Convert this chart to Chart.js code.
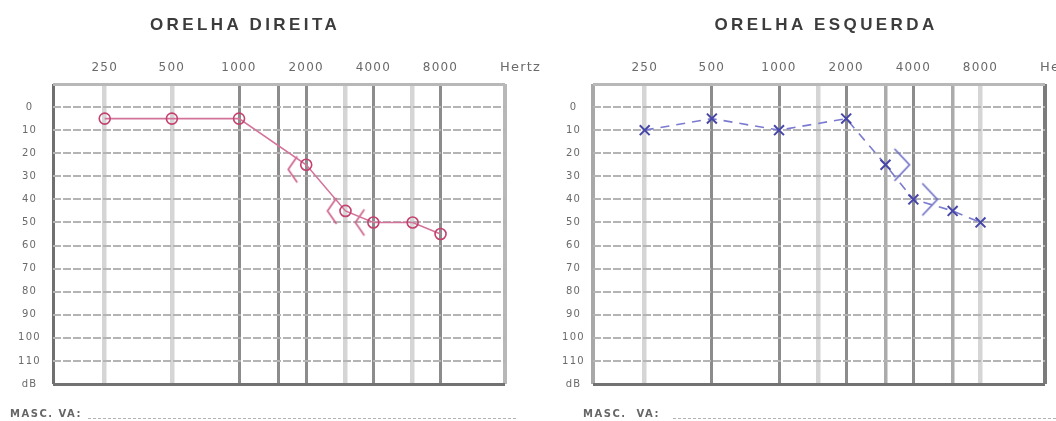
<!DOCTYPE html>
<html>
<head>
<meta charset="utf-8">
<script src="https://cdn.jsdelivr.net/npm/chart.js@4/dist/chart.umd.min.js"></script>
<style>
  body { margin: 0; width: 1056px; height: 421px; overflow: hidden; position: relative; background: #fff; font-family: "DejaVu Sans", sans-serif; }
  .box { position: absolute; top: 0; width: 528px; height: 421px; }
  .title { position: absolute; top: 15px; transform: translateX(-50%); white-space: nowrap; font-family: "Liberation Sans", Arial, sans-serif; font-weight: bold; font-size: 17px; letter-spacing: 3.4px; color: #3c3c3c; }
  .hertz { position: absolute; top: 59px; font-size: 13px; letter-spacing: 1.2px; color: #6a6a6a; white-space: nowrap; }
  .masc { position: absolute; top: 408px; font-size: 10px; font-weight: bold; letter-spacing: 1.5px; color: #666; white-space: nowrap; }
  .dots { position: absolute; top: 418px; height: 0; border-top: 1px dashed #b4b4b4; }
</style>
</head>
<body>
<div class="box" style="left:0"><canvas id="right-ear"></canvas></div>
<div class="box" style="left:528px"><canvas id="left-ear"></canvas></div>
<div class="title" style="left:245px">ORELHA DIREITA</div>
<div class="title" style="left:826px">ORELHA ESQUERDA</div>
<div class="hertz" style="left:500px">Hertz</div>
<div class="hertz" style="left:1040px">Hertz</div>
<div class="masc" style="left:10px">MASC. VA:</div>
<div class="dots" style="left:88px;width:428px"></div>
<div class="masc" style="left:583px">MASC.&nbsp; VA:</div>
<div class="dots" style="left:673px;width:383px"></div>
<script>
// frequencies of the grid, and which of them get a label
var gridFreqs = [250, 500, 1000, 1500, 2000, 3000, 4000, 6000, 8000];
var freqLabels = ["250", "500", "1000", "", "2000", "", "4000", "", "8000"];
var dbTicks = [-10, 0, 10, 20, 30, 40, 50, 60, 70, 80, 90, 100, 110, 120];

// orelha direita (O = via aerea, < = via ossea)
var rightAirFreqs = [250, 500, 1000, 2000, 3000, 4000, 6000, 8000];
var rightAirDb = [5, 5, 5, 25, 45, 50, 50, 55];
var rightBoneFreqs = [2000, 3000, 4000];
var rightBoneDb = [27, 45, 50];

// orelha esquerda (X = via aerea, > = via ossea)
var leftAirFreqs = [250, 500, 1000, 2000, 3000, 4000, 6000, 8000];
var leftAirDb = [10, 5, 10, 5, 25, 40, 45, 50];
var leftBoneFreqs = [3000, 4000];
var leftBoneDb = [25, 40];

function oct(f) {
    return Math.log2(f / 250);
}

function points(freqs, dbs) {
    return freqs.map(function (f, i) {
        return { x: oct(f), y: dbs[i] };
    });
}

// small bracket symbols for bone conduction, drawn beside the point
function boneMark(side, color) {
    var c = document.createElement("canvas");
    var ctx = c.getContext("2d");
    if (side === "<") {
        c.width = 42; c.height = 30;
        ctx.beginPath();
        ctx.moveTo(12, 2); ctx.lineTo(3, 15); ctx.lineTo(12, 28);
    } else {
        c.width = 56; c.height = 36;
        ctx.beginPath();
        ctx.moveTo(37, 2); ctx.lineTo(52, 18); ctx.lineTo(37, 34);
    }
    ctx.strokeStyle = color;
    ctx.lineWidth = 1.6;
    ctx.stroke();
    return c;
}

var LIGHT = { c: "#d5d5d5", w: 4.5 };
var MID = { c: "#ababab", w: 3.5 };
var DARK = { c: "#8c8c8c", w: 3 };

var spacing = {
    id: "spacing",
    beforeDraw: function (chart) {
        chart.ctx.letterSpacing = "1.2px";
    }
};

function audiogram(canvasId, o) {
    var xTicks = [-0.77].concat(gridFreqs.map(oct), [5.96]);
    return new Chart(document.getElementById(canvasId).getContext("2d"), {
        type: "line",
        data: { datasets: o.datasets },
        plugins: [spacing],
        options: {
            responsive: true,
            maintainAspectRatio: false,
            animation: false,
            layout: { padding: { left: 0, right: o.padRight, top: 0, bottom: 37 } },
            plugins: { legend: { display: false }, tooltip: { enabled: false } },
            scales: {
                x: {
                    type: "linear",
                    position: "top",
                    min: -0.77,
                    max: 5.96,
                    afterBuildTicks: function (scale) {
                        scale.ticks = xTicks.map(function (v) { return { value: v }; });
                    },
                    afterFit: function (scale) { scale.height = 84; },
                    ticks: {
                        autoSkip: false,
                        maxRotation: 0,
                        padding: 9,
                        color: "#6a6a6a",
                        font: { family: "DejaVu Sans", size: 12 },
                        callback: function (value, index) {
                            return index === 0 || index > gridFreqs.length ? "" : freqLabels[index - 1];
                        }
                    },
                    grid: {
                        drawTicks: false,
                        color: function (ctx) { return o.xGrid[ctx.index].c; },
                        lineWidth: function (ctx) { return o.xGrid[ctx.index].w; }
                    },
                    border: { display: false }
                },
                y: {
                    type: "linear",
                    reverse: true,
                    min: -10,
                    max: 120,
                    afterBuildTicks: function (scale) {
                        scale.ticks = dbTicks.map(function (v) { return { value: v }; });
                    },
                    afterFit: function (scale) { scale.width = o.axisWidth; },
                    ticks: {
                        crossAlign: "center",
                        padding: o.yPad,
                        color: "#6a6a6a",
                        font: { family: "DejaVu Sans", size: 10 },
                        callback: function (value) {
                            if (value === 120) return "dB";
                            if (value < 0) return "";
                            return value;
                        }
                    },
                    grid: {
                        drawTicks: false,
                        color: function (ctx) {
                            if (ctx.index === 0) return "#b8b8b8";
                            if (ctx.index === dbTicks.length - 1) return "#727272";
                            return "#b4b4b4";
                        },
                        lineWidth: function (ctx) {
                            return ctx.index === 0 || ctx.index === dbTicks.length - 1 ? 3 : 2;
                        }
                    },
                    border: {
                        display: false,
                        dash: function (ctx) {
                            return ctx.index === 0 || ctx.index === dbTicks.length - 1 ? [] : [8, 2];
                        }
                    }
                }
            }
        }
    });
}

audiogram("right-ear", {
    padRight: 23,
    axisWidth: 53,
    yPad: 14,
    xGrid: [{ c: "#707070", w: 3 }, LIGHT, LIGHT, DARK, DARK, DARK, LIGHT, DARK, LIGHT, DARK, { c: "#b8b8b8", w: 4 }],
    datasets: [
        {
            label: "Via aérea",
            data: points(rightAirFreqs, rightAirDb),
            borderColor: "#d4739a",
            borderWidth: 1.6,
            pointStyle: "circle",
            pointRadius: 5.5,
            pointBorderColor: "#c4416f",
            pointBackgroundColor: "rgba(255,255,255,0)",
            pointBorderWidth: 1.6
        },
        {
            label: "Via óssea",
            data: points(rightBoneFreqs, rightBoneDb),
            showLine: false,
            pointStyle: boneMark("<", "#cc5f89"),
            pointRadius: 10
        }
    ]
});

audiogram("left-ear", {
    padRight: 9,
    axisWidth: 65,
    yPad: 10,
    xGrid: [{ c: "#a8a8a8", w: 4 }, LIGHT, DARK, DARK, LIGHT, DARK, MID, DARK, MID, LIGHT, { c: "#7c7c7c", w: 4 }],
    datasets: [
        {
            label: "Via aérea",
            data: points(leftAirFreqs, leftAirDb),
            borderColor: "#7b7bd0",
            borderWidth: 1.6,
            borderDash: [9, 7],
            pointStyle: "crossRot",
            pointRadius: 7,
            pointBorderColor: "#4646a8",
            pointBorderWidth: 2
        },
        {
            label: "Via óssea",
            data: points(leftBoneFreqs, leftBoneDb),
            showLine: false,
            pointStyle: boneMark(">", "#6a6ac4"),
            pointRadius: 10
        }
    ]
});
</script>
</body>
</html>
